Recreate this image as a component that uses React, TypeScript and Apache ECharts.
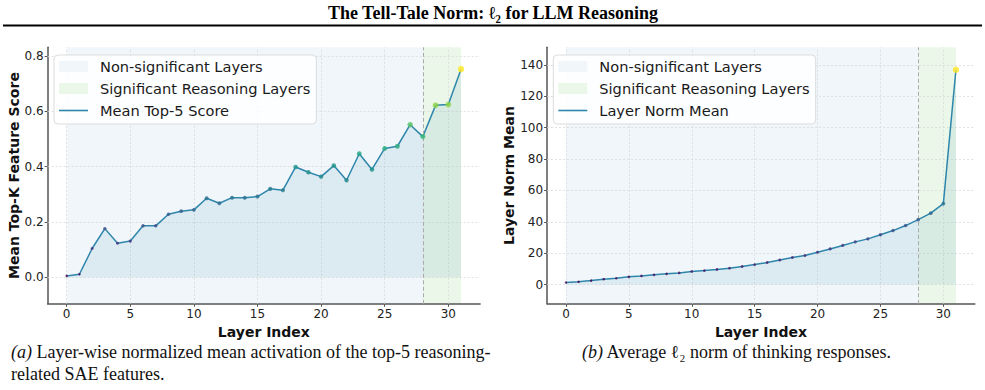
import React, { useEffect, useRef } from "react";
import * as echarts from "echarts";

// Layer indices shared by both panels
const layerIndex = [
  0, 1, 2, 3, 4, 5, 6, 7, 8, 9, 10, 11, 12, 13, 14, 15,
  16, 17, 18, 19, 20, 21, 22, 23, 24, 25, 26, 27, 28, 29, 30, 31,
];

// (a) normalized mean activation of the top-5 reasoning-related SAE features
const topKScores = [
  0.005, 0.011, 0.104, 0.176, 0.123, 0.131, 0.186, 0.186, 0.228, 0.239, 0.244,
  0.286, 0.268, 0.288, 0.288, 0.292, 0.32, 0.315, 0.399, 0.38, 0.364, 0.404,
  0.351, 0.447, 0.39, 0.466, 0.474, 0.552, 0.509, 0.622, 0.625, 0.753,
];

// (b) average l2 norm per layer
const layerNormMeans = [
  1.3, 1.7, 2.5, 3.4, 4.0, 4.9, 5.5, 6.2, 6.8, 7.4, 8.3, 8.9, 9.6, 10.4, 11.5,
  12.7, 14.0, 15.7, 17.2, 18.5, 20.6, 22.7, 24.9, 27.2, 29.1, 31.7, 34.4, 37.6,
  41.4, 45.5, 51.6, 137.0,
];

const xTickValues = [0, 5, 10, 15, 20, 25, 30];
const scoreTickValues = [0, 0.2, 0.4, 0.6, 0.8];
const normTickValues = [0, 20, 40, 60, 80, 100, 120, 140];

const firstLayer = 0;
const reasoningStart = 28;
const lastLayer = 31;

const SPAN_NAME = "Non-significant Layers";
const SIG_NAME = "Significant Reasoning Layers";

const FONT = "DejaVu Sans";
const SERIF = "Liberation Serif";
const LINE_COLOR = "#2E86AB";
const BLUE_SPAN = "#f1f6fb";
const GREEN_SPAN = "#ebf8e9";
const VIRIDIS = [
  "#440154", "#482878", "#3e4989", "#31688e", "#26828e",
  "#1f9e89", "#35b779", "#6ece58", "#b5de2b", "#fde725",
];

// legend glyphs: a 29x11 swatch / thin line, padded to 36px so the label sits further right
const RECT_ICON = "path://M0,0L29,0L29,11L0,11ZM36,11";
const LINE_ICON = "path://M0,0M36,11M0,4.7L29,4.7L29,6.3L0,6.3Z";

type PanelCfg = {
  values: number[];
  lineName: string;
  yTicks: number[];
  yMin: number;
  yMax: number;
  yName: string;
  yFmt: (v: number) => string;
  yNameGap: number;
  gridLeft: number;
  gridWidth: number;
  legendLeft: number;
};

const GRID_TOP = 47.3;
const GRID_HEIGHT = 256.5;

function buildPanel(p: number, cfg: PanelCfg) {
  const pts = cfg.values.map((v, i) => [layerIndex[i], v]);
  const axisColor = "#555";
  const gridLine = { color: "#d9d9d9", width: 0.8, type: [2, 2] as number[] };

  const grid = {
    left: cfg.gridLeft,
    top: GRID_TOP,
    width: cfg.gridWidth,
    height: GRID_HEIGHT,
    containLabel: false,
    outerBoundsMode: "none",
  };

  const xAxis = {
    type: "value",
    gridIndex: p,
    min: -1.5,
    max: 32.5,
    axisLine: { show: true, onZero: false, lineStyle: { color: axisColor, width: 1.5 } },
    axisTick: { show: true, customValues: xTickValues, length: 3, lineStyle: { color: axisColor } },
    axisLabel: {
      customValues: xTickValues,
      color: "#222",
      fontSize: 12,
      fontFamily: FONT,
      margin: 4,
    },
    splitLine: { show: false },
    name: "Layer Index",
    nameLocation: "middle",
    nameGap: 13,
    nameTextStyle: { fontFamily: FONT, fontWeight: "bold", fontSize: 14, color: "#111" },
  };

  const yAxis = {
    type: "value",
    gridIndex: p,
    min: cfg.yMin,
    max: cfg.yMax,
    axisLine: { show: true, onZero: false, lineStyle: { color: axisColor, width: 1.5 } },
    axisTick: { show: true, customValues: cfg.yTicks, length: 3, lineStyle: { color: axisColor } },
    axisLabel: {
      customValues: cfg.yTicks,
      formatter: (v: number) => cfg.yFmt(v),
      color: "#222",
      fontSize: 12,
      fontFamily: FONT,
      margin: 4,
    },
    splitLine: { show: false },
    name: cfg.yName,
    nameLocation: "middle",
    nameGap: cfg.yNameGap,
    nameTextStyle: { fontFamily: FONT, fontWeight: "bold", fontSize: 14, color: "#111" },
  };

  const series = [
    {
      name: SPAN_NAME,
      type: "line",
      xAxisIndex: p,
      yAxisIndex: p,
      data: [],
      markArea: {
        silent: true,
        z: 0,
        itemStyle: { color: BLUE_SPAN },
        data: [[{ xAxis: firstLayer }, { xAxis: reasoningStart }]],
      },
    },
    {
      name: SIG_NAME,
      type: "line",
      xAxisIndex: p,
      yAxisIndex: p,
      data: [],
      markArea: {
        silent: true,
        z: 0,
        itemStyle: { color: GREEN_SPAN },
        data: [[{ xAxis: reasoningStart }, { xAxis: lastLayer }]],
      },
    },
    {
      name: "grid",
      type: "line",
      xAxisIndex: p,
      yAxisIndex: p,
      data: [],
      markLine: {
        silent: true,
        z: 1,
        symbol: ["none", "none"],
        label: { show: false },
        lineStyle: gridLine,
        data: [
          ...xTickValues.map((v) => ({ xAxis: v })),
          ...cfg.yTicks.map((v) => ({ yAxis: v })),
        ],
      },
    },
    {
      name: cfg.lineName,
      type: "line",
      xAxisIndex: p,
      yAxisIndex: p,
      z: 2,
      data: pts,
      symbol: "none",
      showSymbol: false,
      itemStyle: { color: LINE_COLOR },
      lineStyle: { color: LINE_COLOR, width: 1.5 },
      areaStyle: { color: "rgba(46,134,171,0.15)" },
      markLine: {
        silent: true,
        z: 3,
        symbol: ["none", "none"],
        label: { show: false },
        lineStyle: { color: "#ababab", width: 1, type: [4, 2.5] },
        data: [{ xAxis: reasoningStart }],
      },
    },
    {
      name: "markers",
      type: "scatter",
      xAxisIndex: p,
      yAxisIndex: p,
      z: 4,
      symbol: "circle",
      data: pts,
    },
  ];

  const legend = {
    left: cfg.legendLeft,
    top: 55,
    orient: "vertical",
    itemWidth: 36,
    itemHeight: 11,
    itemGap: 7,
    padding: [4, 6, 6, 5],
    backgroundColor: "rgba(255,255,255,0.85)",
    borderColor: "#dcdcdc",
    borderWidth: 1,
    borderRadius: 4,
    selectedMode: false,
    textStyle: { fontFamily: FONT, fontSize: 14.6, color: "#1a1a1a" },
    data: [
      { name: SPAN_NAME, icon: RECT_ICON, itemStyle: { color: BLUE_SPAN, borderWidth: 0 } },
      { name: SIG_NAME, icon: RECT_ICON, itemStyle: { color: GREEN_SPAN, borderWidth: 0 } },
      { name: cfg.lineName, icon: LINE_ICON, itemStyle: { color: LINE_COLOR, borderWidth: 0 } },
    ],
  };

  const visualMap = {
    show: false,
    type: "continuous",
    seriesIndex: p * 5 + 4,
    dimension: 1,
    min: Math.min(...cfg.values),
    max: Math.max(...cfg.values),
    inRange: { color: VIRIDIS, symbolSize: [2.5, 6.5] },
  };

  return { grid, xAxis, yAxis, series, legend, visualMap };
}

export default function App() {
  const ref = useRef<HTMLDivElement>(null);

  useEffect(() => {
    if (!ref.current) return;
    const chart = echarts.init(ref.current, null, { renderer: "svg" });

    const left = buildPanel(0, {
      values: topKScores,
      lineName: "Mean Top-5 Score",
      yTicks: scoreTickValues,
      yMin: -0.096,
      yMax: 0.832,
      yName: "Mean Top-K Feature Score",
      yFmt: (v) => v.toFixed(1),
      yNameGap: 25.5,
      gridLeft: 47.6,
      gridWidth: 432.5,
      legendLeft: 54,
    });
    const right = buildPanel(1, {
      values: layerNormMeans,
      lineName: "Layer Norm Mean",
      yTicks: normTickValues,
      yMin: -12.3,
      yMax: 151.3,
      yName: "Layer Norm Mean",
      yFmt: (v) => String(Math.round(v)),
      yNameGap: 28.4,
      gridLeft: 547.1,
      gridWidth: 427.7,
      legendLeft: 553.3,
    });

    const captionRich = {
      i: { fontFamily: SERIF, fontStyle: "italic", fontSize: 18, fill: "#111" },
      n: { fontFamily: SERIF, fontSize: 18, fill: "#111" },
    };

    chart.setOption({
      animation: false,
      backgroundColor: "#ffffff",
      grid: [left.grid, right.grid],
      xAxis: [left.xAxis, right.xAxis],
      yAxis: [left.yAxis, right.yAxis],
      legend: [left.legend, right.legend],
      visualMap: [left.visualMap, right.visualMap],
      series: [...left.series, ...right.series],
      graphic: [
        {
          type: "text",
          x: 493,
          y: 13,
          style: {
            text: "The Tell-Tale Norm: ℓ₂ for LLM Reasoning",
            font: "bold 18px 'Liberation Serif'",
            fill: "#000",
            align: "center",
            verticalAlign: "middle",
          },
        },
        {
          type: "line",
          shape: { x1: 3, y1: 25.5, x2: 982, y2: 25.5 },
          style: { stroke: "#000", lineWidth: 2 },
        },
        {
          type: "text",
          x: 11,
          y: 352,
          style: {
            text: "{i|(a)}{n| Layer-wise normalized mean activation of the top-5 reasoning-}",
            rich: captionRich,
            verticalAlign: "middle",
          },
        },
        {
          type: "text",
          x: 11,
          y: 374,
          style: {
            text: "{n|related SAE features.}",
            rich: captionRich,
            verticalAlign: "middle",
          },
        },
        {
          type: "text",
          x: 582,
          y: 352,
          style: {
            text: "{i|(b)}{n| Average ℓ₂ norm of thinking responses.}",
            rich: captionRich,
            verticalAlign: "middle",
          },
        },
      ],
    });

    return () => chart.dispose();
  }, []);

  return (
    <div
      ref={ref}
      style={{ position: "fixed", left: 0, top: 0, width: 985, height: 390, background: "#fff" }}
    />
  );
}
